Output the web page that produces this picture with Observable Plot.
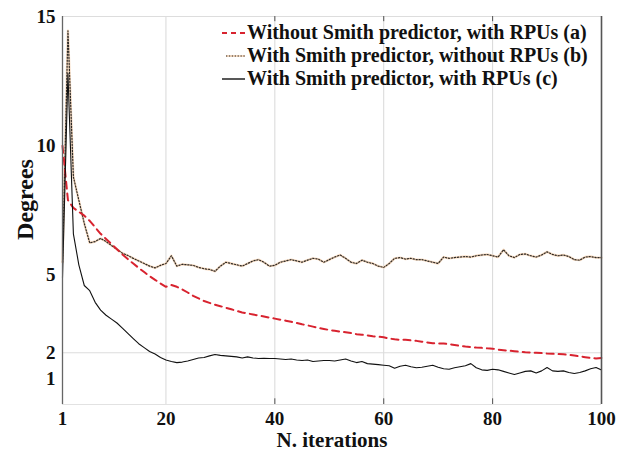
<!DOCTYPE html>
<html>
<head>
<meta charset="utf-8">
<script src="https://cdn.jsdelivr.net/npm/d3@7"></script>
<script src="https://cdn.jsdelivr.net/npm/@observablehq/plot@0.6"></script>
<style>
  html, body { margin: 0; padding: 0; background: #fff; }
  #wrap { position: relative; width: 629px; height: 453px; }
  #legend { position: absolute; left: 220px; top: 21px; font-family: "Liberation Serif", "Times New Roman", serif; font-weight: bold; font-size: 20px; color: #111; }
  #legend .row { display: flex; align-items: center; height: 23px; white-space: nowrap; }
  #legend svg { margin-right: 2px; }
</style>
</head>
<body>
<div id="wrap">
  <div id="chart"></div>
  <div id="legend"></div>
</div>
<script>
const iterations = d3.range(1, 101);

const seriesNames = [
  "Without Smith predictor, with RPUs (a)",
  "With Smith predictor, without RPUs (b)",
  "With Smith predictor, with RPUs (c)"
];

const seriesA = [10.0, 7.9, 7.6, 7.45, 7.3, 7.1, 6.85, 6.6, 6.4, 6.2,
  6.0, 5.8, 5.62, 5.45, 5.28, 5.12, 4.96, 4.82, 4.68, 4.55,
  4.62, 4.55, 4.45, 4.33, 4.2, 4.1, 4.0, 3.93, 3.86, 3.8,
  3.74, 3.68, 3.62, 3.56, 3.52, 3.48, 3.44, 3.4, 3.36, 3.32,
  3.28, 3.24, 3.2, 3.15, 3.1, 3.06, 3.01, 2.96, 2.92, 2.88,
  2.85, 2.82, 2.79, 2.76, 2.72, 2.7, 2.67, 2.64, 2.62, 2.6,
  2.55, 2.52, 2.5, 2.5, 2.48, 2.46, 2.43, 2.4, 2.37, 2.36,
  2.36, 2.33, 2.3, 2.27, 2.24, 2.22, 2.2, 2.19, 2.17, 2.16,
  2.12, 2.1, 2.08, 2.06, 2.04, 2.02, 2.01, 2.0, 1.99, 1.97,
  1.96, 1.95, 1.94, 1.92, 1.89, 1.86, 1.83, 1.8, 1.78, 1.8];

const seriesB = [5.5, 14.45, 8.8, 7.9, 7.0, 6.25, 6.3, 6.42, 6.3, 6.15,
  6.0, 5.85, 5.76, 5.65, 5.55, 5.45, 5.35, 5.28, 5.38, 5.45,
  5.75, 5.35, 5.42, 5.4, 5.38, 5.3, 5.25, 5.22, 5.15, 5.35,
  5.5, 5.45, 5.4, 5.35, 5.45, 5.55, 5.6, 5.5, 5.35, 5.38,
  5.5, 5.55, 5.6, 5.55, 5.5, 5.58, 5.65, 5.62, 5.5, 5.6,
  5.7, 5.78, 5.65, 5.5, 5.45, 5.58, 5.5, 5.45, 5.35, 5.3,
  5.45, 5.65, 5.68, 5.62, 5.65, 5.6, 5.6, 5.55, 5.5, 5.45,
  5.7, 5.65, 5.68, 5.7, 5.72, 5.7, 5.75, 5.78, 5.8, 5.75,
  5.7, 5.98, 5.75, 5.68, 5.8, 5.82, 5.75, 5.7, 5.78, 5.9,
  5.8, 5.75, 5.78, 5.72, 5.6, 5.58, 5.7, 5.72, 5.68, 5.68];

const seriesC = [4.9, 12.8, 6.6, 5.4, 4.6, 4.4, 3.95, 3.65, 3.45, 3.3,
  3.15, 2.95, 2.75, 2.55, 2.35, 2.2, 2.05, 1.95, 1.82, 1.72,
  1.66, 1.62, 1.64, 1.68, 1.74, 1.8, 1.82, 1.88, 1.93, 1.9,
  1.88, 1.86, 1.84, 1.8, 1.84, 1.8, 1.78, 1.79, 1.78, 1.78,
  1.76, 1.74, 1.76, 1.72, 1.7, 1.72, 1.66, 1.68, 1.7, 1.7,
  1.68, 1.72, 1.76, 1.68, 1.62, 1.66, 1.58, 1.56, 1.54, 1.52,
  1.5, 1.4, 1.48, 1.52, 1.46, 1.42, 1.44, 1.48, 1.52, 1.44,
  1.38, 1.36, 1.42, 1.46, 1.5, 1.58, 1.42, 1.34, 1.32, 1.36,
  1.34, 1.28, 1.22, 1.16, 1.22, 1.28, 1.3, 1.22, 1.3, 1.43,
  1.3, 1.28, 1.3, 1.24, 1.2, 1.24, 1.3, 1.38, 1.43, 1.33];

const xTicks = [1, 20, 40, 60, 80, 100];
const yTicks = [1, 2, 5, 10, 15];
const xGrid = [20, 40, 60, 80];
const yGrid = [2];
const bottomTickMarks = [40, 60, 80, 100];
const topTickMarks = [40, 60, 80];

const toRows = (vals) => vals.map((v, i) => ({x: iterations[i], y: v}));
const dataA = toRows(seriesA), dataB = toRows(seriesB), dataC = toRows(seriesC);

const redColor = "#d8232f";
const dotColor = "#2e2a26";
const dotHalo = "#f8dcc2";
const solidColor = "#111111";

const chart = Plot.plot({
  width: 629,
  height: 453,
  marginLeft: 62,
  marginRight: 28,
  marginTop: 16,
  marginBottom: 49,
  style: {fontFamily: "'Liberation Serif', 'Times New Roman', serif", fontWeight: "bold", fontSize: "19px", color: "#111", background: "#fff"},
  x: {domain: [1, 100]},
  y: {domain: [0, 15]},
  marks: [
    Plot.ruleX(xGrid, {stroke: "#d8d8d8", strokeWidth: 1}),
    Plot.ruleY(yGrid, {stroke: "#dcdcdc", strokeWidth: 1}),
    Plot.ruleY([15], {stroke: "#dddddd"}),
    Plot.ruleY([0], {stroke: "#e2e2e2"}),
    Plot.axisX({ticks: xTicks, tickSize: 0, tickPadding: 7, fontSize: 19, fontWeight: "bold", label: null}),
    Plot.ruleX(bottomTickMarks, {y1: 0, y2: 0.22, stroke: "#555"}),
    Plot.ruleX(topTickMarks, {y1: 14.8, y2: 15, stroke: "#555"}),
    Plot.axisY({ticks: yTicks, tickSize: 0, tickPadding: 7, fontSize: 19, fontWeight: "bold", label: null}),
    Plot.line(dataB, {x: "x", y: "y", stroke: dotHalo, strokeWidth: 2.4}),
    Plot.line(dataB, {x: "x", y: "y", stroke: dotColor, strokeWidth: 1.2, strokeDasharray: "1.3,1.7"}),
    Plot.line(dataA, {x: "x", y: "y", stroke: redColor, strokeWidth: 2, strokeDasharray: "7,5"}),
    Plot.line(dataC, {x: "x", y: "y", stroke: solidColor, strokeWidth: 1.1}),
    Plot.ruleX([1], {stroke: "#666", strokeWidth: 1.3}),
    Plot.ruleX([100], {stroke: "#555", strokeWidth: 1.6}),
    Plot.text(["N. iterations"], {frameAnchor: "bottom", dy: 42, fontSize: 21, fontWeight: "bold", fill: "#111"}),
    Plot.text(["Degrees"], {frameAnchor: "left", textAnchor: "middle", dx: -37, dy: -11, rotate: -90, fontSize: 24, fontWeight: "bold", fill: "#111"})
  ]
});
document.getElementById("chart").appendChild(chart);

const legendStyles = [
  {stroke: redColor, width: 2, dash: "5,4", halo: null},
  {stroke: dotColor, width: 1.1, dash: "1.3,1.6", halo: dotHalo},
  {stroke: solidColor, width: 1.4, dash: null, halo: null}
];
const legend = document.getElementById("legend");
seriesNames.forEach((name, i) => {
  const s = legendStyles[i];
  const row = document.createElement("div");
  row.className = "row";
  row.innerHTML = `<svg width="25" height="10">` +
    (s.halo ? `<line x1="6" x2="25" y1="5" y2="5" stroke="${s.halo}" stroke-width="2"/>` : "") +
    `<line x1="${s.halo ? 6 : 2}" x2="25" y1="5" y2="5" stroke="${s.stroke}" stroke-width="${s.width}"` +
    (s.dash ? ` stroke-dasharray="${s.dash}"` : "") + `/></svg><span>${name}</span>`;
  legend.appendChild(row);
});
</script>
</body>
</html>
